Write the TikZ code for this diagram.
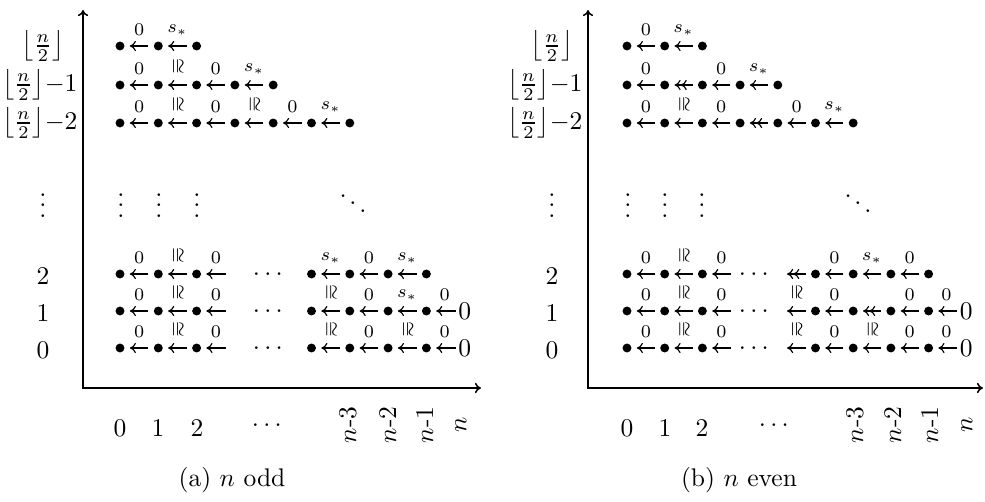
\documentclass[tikz,border=0pt]{standalone}
\usepackage{amsmath}
\usepackage{graphicx}
\usetikzlibrary{arrows.meta}
\newcommand{\isoR}{\rotatebox[origin=c]{-90}{$\cong$}}
\newcommand{\labZ}{$0$}
\newcommand{\labS}{$s_*$}
\newcommand{\flr}{\left\lfloor\frac{n}{2}\right\rfloor}
\begin{document}
\begin{tikzpicture}[x=0.392pt,y=-0.392pt,>={Computer Modern Rightarrow[length=2.4pt,width=4pt]},
 dot/.style={circle,fill=black,inner sep=0pt,minimum size=3.5pt},
 arr/.style={->,line width=0.45pt,shorten >=1.9pt,shorten <=1.9pt},
 epi/.style={->>,line width=0.45pt,shorten >=1.9pt,shorten <=1.9pt},
 arrz/.style={->,line width=0.45pt,shorten >=1.9pt,shorten <=0.8pt},
 lab/.style={font=\scriptsize,inner sep=0pt,anchor=south,yshift=4pt},
 axis/.style={<->,line width=0.6pt},
 txt/.style={inner sep=0pt}]
\useasboundingbox (0,0) rectangle (985,502);

%================ LEFT PANEL (n odd) ================
\coordinate (Lo) at (83,388); \coordinate (Ly) at (83,10); \coordinate (Lx) at (481,388);
\draw[axis] (Ly) -- (Lo) -- (Lx);

% row labels
\node[txt] (LrT) at (43,46) {$\flr$};
\node[txt,anchor=east] (LrU) at (78,85) {$\flr\!{-}1$};
\node[txt,anchor=east] (LrV) at (78,123) {$\flr\!{-}2$};
\node[txt,anchor=base] (Lrv) at (43,217) {$\vdots$};
\node[txt,anchor=base] (Lr2) at (43,284) {$2$};
\node[txt,anchor=base] (Lr1) at (43,321) {$1$};
\node[txt,anchor=base] (Lr0) at (43,358) {$0$};

% column labels
\node[txt,anchor=base] (Lc0) at (120,436) {$0$};
\node[txt,anchor=base] (Lc1) at (158,436) {$1$};
\node[txt,anchor=base] (Lc2) at (197,436) {$2$};
\node[txt,anchor=base] (Lcd) at (269,431) {$\cdots$};
\node[txt,rotate=90] (Lc3) at (348,425) {$n$-$3$};
\node[txt,rotate=90] (Lc4) at (388,425) {$n$-$2$};
\node[txt,rotate=90] (Lc5) at (425,425) {$n$-$1$};
\node[txt,rotate=90] (Lc6) at (461,425) {$n$};

% top rows
\foreach \k in {0,1,2} \node[dot] (LT\k) at ({120+38.3*\k},46) {};
\foreach \a/\t in {1/\labZ,2/\labS}{\pgfmathtruncatemacro\b{\a-1}\draw[arr] (LT\a) -- node[lab]{\t} (LT\b);}
\foreach \k in {0,...,4} \node[dot] (LU\k) at ({120+38.3*\k},85) {};
\foreach \a/\t in {1/\labZ,2/\isoR,3/\labZ,4/\labS}{\pgfmathtruncatemacro\b{\a-1}\draw[arr] (LU\a) -- node[lab]{\t} (LU\b);}
\foreach \k in {0,...,6} \node[dot] (LV\k) at ({120+38.3*\k},123) {};
\foreach \a/\t in {1/\labZ,2/\isoR,3/\labZ,4/\isoR,5/\labZ,6/\labS}{\pgfmathtruncatemacro\b{\a-1}\draw[arr] (LV\a) -- node[lab]{\t} (LV\b);}

% dots
\node[txt,anchor=base] (Lv0) at (121,217) {$\vdots$};
\node[txt,anchor=base] (Lv1) at (159,217) {$\vdots$};
\node[txt,anchor=base] (Lv2) at (197,217) {$\vdots$};
\node[txt,anchor=base] (Ldd) at (353,215) {$\ddots$};

% bottom rows
\foreach \r/\y in {2/274,1/311,0/348}{
  \foreach \k in {0,1,2} \node[dot] (LB\r-\k) at ({120+38.3*\k},\y) {};
  \coordinate (LB\r-f) at ({120+38.3*3-4.4},\y);
  \draw[arr] (LB\r-1) -- node[lab]{\labZ} (LB\r-0);
  \draw[arr] (LB\r-2) -- node[lab]{\isoR} (LB\r-1);
  \draw[arr] (LB\r-f) -- node[lab]{\labZ} (LB\r-2);
  \node[txt,anchor=base] (LB\r-d) at (270,{\y+6.4}) {$\cdots$};
  \foreach \k in {5,...,8} \node[dot] (LB\r-\k) at ({120+38.3*\k},\y) {};
}
\node[txt] (LB1-9) at ({120+38.3*9},311) {$0$};
\node[txt] (LB0-9) at ({120+38.3*9},348) {$0$};
\draw[arr] (LB2-6) -- node[lab]{\labS} (LB2-5);
\draw[arr] (LB2-7) -- node[lab]{\labZ} (LB2-6);
\draw[arr] (LB2-8) -- node[lab]{\labS} (LB2-7);
\draw[arr] (LB1-6) -- node[lab]{\isoR} (LB1-5);
\draw[arr] (LB1-7) -- node[lab]{\labZ} (LB1-6);
\draw[arr] (LB1-8) -- node[lab]{\labS} (LB1-7);
\draw[arrz] (LB1-9) -- node[lab]{\labZ} (LB1-8);
\draw[arr] (LB0-6) -- node[lab]{\isoR} (LB0-5);
\draw[arr] (LB0-7) -- node[lab]{\labZ} (LB0-6);
\draw[arr] (LB0-8) -- node[lab]{\isoR} (LB0-7);
\draw[arrz] (LB0-9) -- node[lab]{\labZ} (LB0-8);

\node (capA) at (232,480) {(a) $n$ odd};

%================ RIGHT PANEL (n even) ================
\coordinate (Ro) at (588,388); \coordinate (Ry) at (588,10); \coordinate (Rx) at (983,388);
\draw[axis] (Ry) -- (Ro) -- (Rx);

\node[txt] (RrT) at (552,46) {$\flr$};
\node[txt,anchor=east] (RrU) at (583,85) {$\flr\!{-}1$};
\node[txt,anchor=east] (RrV) at (583,123) {$\flr\!{-}2$};
\node[txt,anchor=base] (Rrv) at (552,217) {$\vdots$};
\node[txt,anchor=base] (Rr2) at (552,284) {$2$};
\node[txt,anchor=base] (Rr1) at (552,321) {$1$};
\node[txt,anchor=base] (Rr0) at (552,358) {$0$};

\node[txt,anchor=base] (Rc0) at (627,436) {$0$};
\node[txt,anchor=base] (Rc1) at (665,436) {$1$};
\node[txt,anchor=base] (Rc2) at (702,436) {$2$};
\node[txt,anchor=base] (Rcd) at (776,431) {$\cdots$};
\node[txt,rotate=90] (Rc3) at (855,425) {$n$-$3$};
\node[txt,rotate=90] (Rc4) at (893,425) {$n$-$2$};
\node[txt,rotate=90] (Rc5) at (930,425) {$n$-$1$};
\node[txt,rotate=90] (Rc6) at (967,425) {$n$};

\foreach \k in {0,1,2} \node[dot] (RT\k) at ({627+37.7*\k},46) {};
\foreach \a/\t in {1/\labZ,2/\labS}{\pgfmathtruncatemacro\b{\a-1}\draw[arr] (RT\a) -- node[lab]{\t} (RT\b);}
\foreach \k in {0,...,4} \node[dot] (RU\k) at ({627+37.7*\k},85) {};
\draw[arr] (RU1) -- node[lab]{\labZ} (RU0);
\draw[epi] (RU2) -- (RU1);
\draw[arr] (RU3) -- node[lab]{\labZ} (RU2);
\draw[arr] (RU4) -- node[lab]{\labS} (RU3);
\foreach \k in {0,...,6} \node[dot] (RV\k) at ({627+37.7*\k},123) {};
\draw[arr] (RV1) -- node[lab]{\labZ} (RV0);
\draw[arr] (RV2) -- node[lab]{\isoR} (RV1);
\draw[arr] (RV3) -- node[lab]{\labZ} (RV2);
\draw[epi] (RV4) -- (RV3);
\draw[arr] (RV5) -- node[lab]{\labZ} (RV4);
\draw[arr] (RV6) -- node[lab]{\labS} (RV5);

\node[txt,anchor=base] (Rv0) at (628,217) {$\vdots$};
\node[txt,anchor=base] (Rv1) at (665,217) {$\vdots$};
\node[txt,anchor=base] (Rv2) at (702,217) {$\vdots$};
\node[txt,anchor=base] (Rdd) at (858,215) {$\ddots$};

\foreach \r/\y in {2/274,1/311,0/348}{
  \foreach \k in {0,1,2} \node[dot] (RB\r-\k) at ({627+37.7*\k},\y) {};
  \coordinate (RB\r-f) at ({627+37.7*3-4.4},\y);
  \draw[arr] (RB\r-1) -- node[lab]{\labZ} (RB\r-0);
  \draw[arr] (RB\r-2) -- node[lab]{\isoR} (RB\r-1);
  \draw[arr] (RB\r-f) -- node[lab]{\labZ} (RB\r-2);
  \node[txt,anchor=base] (RB\r-d) at (756,{\y+6.4}) {$\cdots$};
  \coordinate (RB\r-g) at ({627+37.7*4+4.4},\y);
  \foreach \k in {5,...,8} \node[dot] (RB\r-\k) at ({627+37.7*\k},\y) {};
}
\node[txt] (RB1-9) at ({627+37.7*9},311) {$0$};
\node[txt] (RB0-9) at ({627+37.7*9},348) {$0$};
\draw[epi] (RB2-5) -- (RB2-g);
\draw[arr] (RB2-6) -- node[lab]{\labZ} (RB2-5);
\draw[arr] (RB2-7) -- node[lab]{\labS} (RB2-6);
\draw[arr] (RB2-8) -- node[lab]{\labZ} (RB2-7);
\draw[arr] (RB1-5) -- node[lab]{\isoR} (RB1-g);
\draw[arr] (RB1-6) -- node[lab]{\labZ} (RB1-5);
\draw[epi] (RB1-7) -- (RB1-6);
\draw[arr] (RB1-8) -- node[lab]{\labZ} (RB1-7);
\draw[arrz] (RB1-9) -- node[lab]{\labZ} (RB1-8);
\draw[arr] (RB0-5) -- node[lab]{\isoR} (RB0-g);
\draw[arr] (RB0-6) -- node[lab]{\labZ} (RB0-5);
\draw[arr] (RB0-7) -- node[lab]{\isoR} (RB0-6);
\draw[arr] (RB0-8) -- node[lab]{\labZ} (RB0-7);
\draw[arrz] (RB0-9) -- node[lab]{\labZ} (RB0-8);

\node (capB) at (739,480) {(b) $n$ even};
\end{tikzpicture}
\end{document}
